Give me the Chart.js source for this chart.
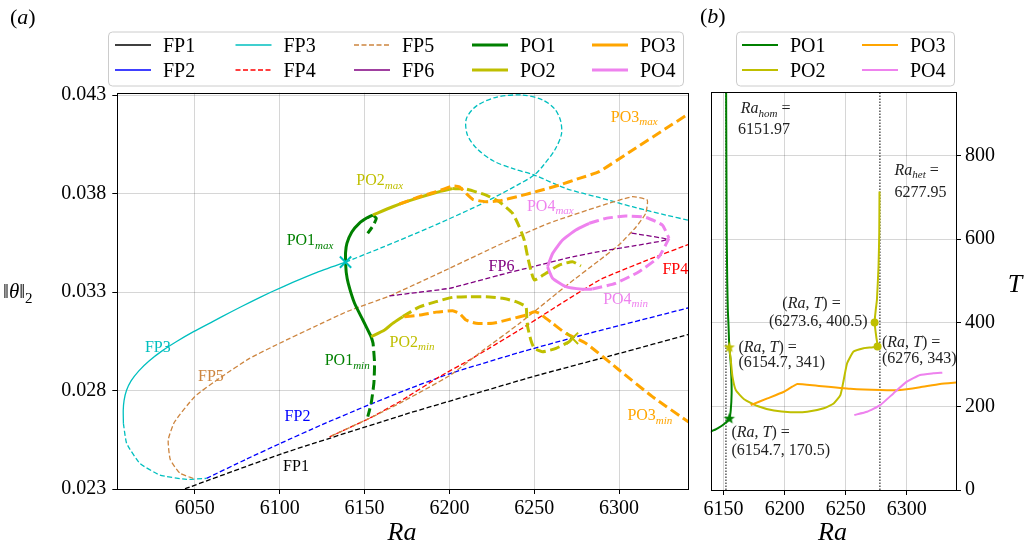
<!DOCTYPE html>
<html>
<head>
<meta charset="utf-8">
<script src="https://cdn.jsdelivr.net/npm/chart.js@4/dist/chart.umd.min.js"></script>
<style>
  html, body { margin: 0; padding: 0; background: #fff; }
  #wrap { position: relative; width: 1028px; height: 551px; overflow: hidden; }
  #chartA { position: absolute; left: 0; top: 0; }
  #chartB { position: absolute; left: 700px; top: 0; }
</style>
</head>
<body>
<div id="wrap">
  <canvas id="chartA" width="700" height="551"></canvas>
  <canvas id="chartB" width="328" height="551"></canvas>
</div>
<script>
// ── Data: panel (a), Ra vs ||theta||_2 ─────────────────────────────────────
const aRaTicks   = [6050, 6100, 6150, 6200, 6250, 6300];
const aNormTicks = [0.023, 0.028, 0.033, 0.038, 0.043];

const fp1Ra   = [6040, 6045.1, 6101.9, 6176.5, 6210, 6249, 6300, 6341];
const fp1Norm = [0.02288, 0.02304, 0.02481, 0.02686, 0.02771, 0.0287, 0.02988, 0.03085];

const fp2Ra   = [6056.9, 6080, 6100, 6125, 6150, 6175, 6200, 6240, 6280, 6341];
const fp2Norm = [0.02354, 0.0245, 0.0253, 0.02627, 0.02718, 0.02805, 0.02885, 0.0299, 0.03085, 0.0322];

// FP3: stable part, lower unstable part, upper unstable part with the loop
const fp3StableRa   = [6138.8, 6122, 6108, 6095, 6083, 6071.5, 6060.5, 6049.5, 6039.5, 6030.5, 6023, 6017, 6012.5, 6009.7, 6008.3, 6007.8, 6007.9];
const fp3StableNorm = [0.03452, 0.034, 0.0335, 0.033, 0.0325, 0.032, 0.0315, 0.031, 0.0305, 0.03, 0.0295, 0.029, 0.0285, 0.028, 0.0275, 0.027, 0.02633];
const fp3LowRa   = [6007.9, 6009.8, 6017.6, 6029.4, 6045.1, 6056.9];
const fp3LowNorm = [0.02633, 0.02532, 0.0243, 0.02371, 0.02349, 0.02354];
const fp3UpRa   = [6138.8, 6160, 6180, 6200, 6220, 6240, 6250, 6256, 6262, 6266, 6265.5, 6262, 6255, 6243, 6228,
                   6216, 6210, 6210.5, 6216, 6226, 6238, 6250, 6268.6, 6288.2, 6307.8, 6327.5, 6341];
const fp3UpNorm = [0.03452, 0.03525, 0.03597, 0.03672, 0.03752, 0.03843, 0.03894, 0.0395, 0.0402, 0.041, 0.0417, 0.0423, 0.04275, 0.043, 0.0429,
                   0.04245, 0.0418, 0.041, 0.0403, 0.03965, 0.03925, 0.03894, 0.03826, 0.0378, 0.03733, 0.03691, 0.03664];

const fp4Ra   = [6129.4, 6152.9, 6170.6, 6194.1, 6211.8, 6241.2, 6288.2, 6316.6, 6341];
const fp4Norm = [0.02565, 0.02659, 0.02743, 0.0287, 0.02955, 0.03107, 0.0336, 0.03462, 0.03542];

const fp5Ra   = [6049, 6041.2, 6035.5, 6034.3, 6038, 6050, 6065, 6082, 6100, 6120, 6140, 6164.7, 6200, 6229.4, 6258.8,
                 6288.2, 6307.8, 6316.6, 6315.7, 6310, 6300, 6288.2, 6270, 6241.2, 6220, 6200, 6170.6, 6152.9, 6129.4];
const fp5Norm = [0.02354, 0.0238, 0.0245, 0.02549, 0.0264, 0.0277, 0.02865, 0.02962, 0.0304, 0.03122, 0.03202, 0.0328, 0.0342, 0.0354, 0.0365,
                 0.03735, 0.03784, 0.03767, 0.037, 0.0363, 0.0354, 0.0346, 0.0334, 0.0314, 0.03005, 0.02875, 0.02735, 0.02659, 0.02565];

const fp6Ra   = [6164.7, 6176.5, 6200, 6229.4, 6249, 6268.6, 6288.2, 6307.8, 6328.4, 6305.9];
const fp6Norm = [0.0328, 0.03293, 0.03319, 0.03386, 0.03428, 0.03471, 0.03505, 0.03533, 0.03567, 0.03601];

// PO branches: max / min of the orbit, stable (solid) and unstable (dashed)
const po1MaxRa       = [6138.8, 6138.8, 6139.6, 6142.5, 6147, 6151.5, 6154.9];
const po1MaxNorm     = [0.03452, 0.035, 0.03547, 0.03605, 0.0365, 0.03677, 0.03691];
const po1MaxDashRa   = [6154.9, 6156.9, 6155.2, 6151.9];
const po1MaxDashNorm = [0.03691, 0.03674, 0.0364, 0.03598];
const po1MinRa       = [6138.8, 6139.2, 6140.4, 6144.1, 6149, 6153.9];
const po1MinNorm     = [0.03452, 0.034, 0.03344, 0.03243, 0.03158, 0.03073];
const po1MinDashRa   = [6153.9, 6155, 6155.9, 6155.5, 6153.9, 6151.9];
const po1MinDashNorm = [0.03073, 0.0304, 0.02938, 0.02837, 0.02735, 0.02667];

const po2MaxRa       = [6154.9, 6166.6, 6176.5, 6192.2, 6201.9];
const po2MaxNorm     = [0.03691, 0.03733, 0.03764, 0.03805, 0.03825];
const po2MaxDashRa   = [6201.9, 6209.8, 6221.6, 6229.4, 6237.2, 6241.2, 6244.1, 6246.1, 6248, 6250, 6256.9, 6264.7, 6272.5, 6277.5];
const po2MaxDashNorm = [0.03825, 0.03823, 0.03792, 0.03758, 0.037, 0.03631, 0.03564, 0.03479, 0.03412, 0.03361, 0.03395, 0.03437, 0.03454, 0.03432];
const po2MinRa       = [6153.9, 6161.8, 6166.6, 6172.5];
const po2MinNorm     = [0.03073, 0.03107, 0.03141, 0.03175];
const po2MinDashRa   = [6172.5, 6182.4, 6192.2, 6201.9, 6211.8, 6221.6, 6231.4, 6239.2, 6245.1, 6245.6, 6246.1, 6248, 6250, 6254.9, 6262.8, 6270.6, 6272.5];
const po2MinDashNorm = [0.03175, 0.03225, 0.03251, 0.03273, 0.03276, 0.03276, 0.03268, 0.03251, 0.03225, 0.03168, 0.03124, 0.03056, 0.03014, 0.02997, 0.03014, 0.03048, 0.03065];

const po3MaxRa   = [6170.6, 6182.4, 6192.2, 6201.9, 6205.9, 6209.8, 6213.7, 6221.6, 6229.4, 6241.2, 6252.9, 6264.7, 6276.5, 6288.2, 6307.8, 6327.5, 6341];
const po3MaxNorm = [0.03747, 0.03784, 0.03809, 0.03838, 0.03834, 0.03801, 0.03771, 0.03758, 0.03763, 0.03787, 0.03814, 0.03843, 0.03877, 0.03911, 0.0402, 0.0413, 0.04205];
const po3MinRa   = [6173.5, 6182.4, 6192.2, 6201.9, 6205.9, 6209.8, 6215.7, 6225.5, 6235.3, 6245.1, 6250, 6252.9, 6260.8, 6268.6, 6280.4, 6300, 6319.6, 6341];
const po3MinNorm = [0.03175, 0.03183, 0.03198, 0.03205, 0.03192, 0.03158, 0.03141, 0.03141, 0.03161, 0.03183, 0.032, 0.03192, 0.03141, 0.0309, 0.0304, 0.02904, 0.02769, 0.0264];

const po4MaxRa       = [6257.8, 6260.8, 6266.7, 6274.5, 6282.4];
const po4MaxNorm     = [0.03428, 0.03496, 0.03564, 0.03615, 0.03649];
const po4MaxDashRa   = [6282.4, 6292.2, 6304, 6315.7, 6325.5, 6329.4];
const po4MaxDashNorm = [0.03649, 0.03674, 0.03686, 0.03679, 0.0364, 0.03573];
const po4MinRa       = [6257.8, 6260.8, 6268.6, 6278.4, 6284.3];
const po4MinNorm     = [0.03428, 0.0337, 0.03327, 0.03314, 0.03315];
const po4MinDashRa   = [6284.3, 6297.8, 6311.7, 6323.5, 6329.4];
const po4MinDashNorm = [0.03315, 0.03344, 0.03403, 0.03479, 0.03573];

// Hopf points (crosses)
const hopfRa   = [6138.8, 6272.5];
const hopfNorm = [0.03452, 0.03065];

// ── Data: panel (b), Ra vs period T ────────────────────────────────────────
const bRaTicks     = [6150, 6200, 6250, 6300];
const bPeriodTicks = [0, 200, 400, 600, 800];

const po1PerRa = [6135, 6139.6, 6145.1, 6150.5, 6154.7, 6155.9, 6156.6, 6156.4, 6155.7, 6154.7, 6154.1, 6153.5, 6153.0, 6152.6, 6152.3, 6152.1];
const po1PerT  = [132, 139.5, 147.6, 158, 170.5, 191, 231, 271, 311, 341, 391, 430, 500, 614, 800, 960];
const po2PerRa = [6154.7, 6155.9, 6157.3, 6160, 6166.8, 6177.7, 6191.2, 6204.8, 6218.5, 6232, 6240.1, 6245.6, 6248.3, 6251.1, 6256.4,
                  6264.6, 6271.4, 6276, 6275, 6273.6, 6274.5, 6275.5, 6276.8, 6277.4, 6277.6];
const po2PerT  = [341, 311, 271, 239, 217, 201, 190, 186, 187, 195.5, 207, 227, 263, 303, 331,
                  339, 341, 343, 365, 400.5, 430, 455, 534, 614, 714];
const po3PerRa = [6172.2, 6185.9, 6199.4, 6206.2, 6210.3, 6226.6, 6253.8, 6278.2, 6294.5, 6310.8, 6327.1, 6341];
const po3PerT  = [203, 219, 235, 247, 253.6, 249, 242, 239, 239, 245.7, 253.6, 257];
const po4PerRa = [6257, 6267.4, 6278.2, 6289, 6300, 6310.8, 6321.6, 6329];
const po4PerT  = [179.4, 187, 203, 231, 259, 275, 279, 280.6];

const raHom = 6151.97;
const raHet = 6277.95;
const guideT = [0, 960];
const starRa = [6154.7, 6154.7];
const starT  = [170.5, 341];
const dotRa  = [6273.6, 6276];
const dotT   = [400.5, 343];

// ── Styling ─────────────────────────────────────────────────────────────────
const SERIF = "'Liberation Serif', 'Times New Roman', serif";
const C = {
  fp1: '#000000', fp2: '#0000ff', fp3: '#00bfbf', fp4: '#ff0000', fp5: '#cd853f', fp6: '#800080',
  po1: '#008000', po2: '#bfbf00', po3: '#ffa500', po4: '#ee82ee', text: '#222222'
};
const FP_DASH = [5, 2.5];
const PO_DASH = [10, 4.5];

Chart.defaults.font.family = SERIF;

function pts(xs, ys) { return xs.map((x, i) => ({ x: x, y: ys[i] })); }

function seg(xs, ys, color, width, dash, layer, tension) {
  return {
    data: pts(xs, ys), showLine: true, fill: false,
    borderColor: color, backgroundColor: color, borderWidth: width, borderDash: dash,
    pointRadius: 0, pointHoverRadius: 0, tension: tension === undefined ? 0.15 : tension, order: -layer
  };
}

function marks(xs, ys, colors, style, radius, width, layer) {
  return {
    data: pts(xs, ys), showLine: false,
    pointStyle: style, pointRadius: radius, pointHoverRadius: radius,
    pointBorderColor: colors, pointBackgroundColor: colors, pointBorderWidth: width,
    order: -layer
  };
}

function starImage(color, r) {
  const c = document.createElement('canvas');
  const s = Math.ceil(r * 2 + 2);
  c.width = s; c.height = s;
  const g = c.getContext('2d');
  g.beginPath();
  for (let i = 0; i < 10; i++) {
    const rad = i % 2 ? r * 0.42 : r;
    const a = -Math.PI / 2 + i * Math.PI / 5;
    const px = s / 2 + rad * Math.cos(a), py = s / 2 + rad * Math.sin(a);
    if (i === 0) g.moveTo(px, py); else g.lineTo(px, py);
  }
  g.closePath();
  g.fillStyle = color;
  g.fill();
  return c;
}

// text made of runs: 'n' upright, 'i' italic, 's' italic subscript, 'd' upright subscript
function drawRuns(ctx, x, yMid, runs, size, color, align) {
  const fontOf = k => {
    if (k === 'n') return size + 'px ' + SERIF;
    if (k === 'i') return 'italic ' + size + 'px ' + SERIF;
    if (k === 's') return 'italic ' + Math.round(size * 0.7) + 'px ' + SERIF;
    return Math.round(size * 0.7) + 'px ' + SERIF;
  };
  let w = 0;
  runs.forEach(r => { ctx.font = fontOf(r[1]); w += ctx.measureText(r[0]).width; });
  let cx = align === 'center' ? x - w / 2 : (align === 'right' ? x - w : x);
  const base = yMid + size * 0.33;
  ctx.save();
  ctx.fillStyle = color;
  ctx.textAlign = 'left';
  ctx.textBaseline = 'alphabetic';
  runs.forEach(r => {
    ctx.font = fontOf(r[1]);
    const sub = r[1] === 's' || r[1] === 'd';
    ctx.fillText(r[0], cx, base + (sub ? size * 0.22 : 0));
    cx += ctx.measureText(r[0]).width;
  });
  ctx.restore();
}

function drawLegend(ctx, box, items) {
  ctx.save();
  ctx.fillStyle = 'rgba(255,255,255,0.85)';
  ctx.strokeStyle = '#cccccc';
  ctx.lineWidth = 1;
  ctx.beginPath();
  ctx.roundRect(box.x + 0.5, box.y + 0.5, box.w, box.h, 4);
  ctx.fill();
  ctx.stroke();
  items.forEach(it => {
    ctx.beginPath();
    ctx.strokeStyle = it.color;
    ctx.lineWidth = it.width;
    ctx.setLineDash(it.dash);
    ctx.moveTo(it.x, it.y);
    ctx.lineTo(it.x + 36, it.y);
    ctx.stroke();
    ctx.setLineDash([]);
    drawRuns(ctx, it.x + 48, it.y, [[it.label, 'n']], 20, '#000', 'left');
  });
  ctx.restore();
}

function framePlugin(id) {
  return {
    id: id,
    afterDatasetsDraw(chart) {
      const a = chart.chartArea, ctx = chart.ctx;
      ctx.save();
      ctx.strokeStyle = '#000';
      ctx.lineWidth = 1;
      ctx.strokeRect(Math.round(a.left) + 0.5, Math.round(a.top) + 0.5,
                     Math.round(a.right - a.left), Math.round(a.bottom - a.top));
      ctx.restore();
    }
  };
}

const gridStyle = { color: 'rgba(0,0,0,0.16)', lineWidth: 1, tickColor: '#000', tickLength: 5, tickWidth: 1 };
const tickFont = { family: SERIF, size: 20 };

// ── Panel (a) ───────────────────────────────────────────────────────────────
const labelsA = [
  { at: [6104.1, 0.03564], runs: [['PO1', 'n'], ['max', 's']], color: C.po1 },
  { at: [6126.5, 0.02955], runs: [['PO1', 'n'], ['min', 's']], color: C.po1 },
  { at: [6145.1, 0.03869], runs: [['PO2', 'n'], ['max', 's']], color: C.po2 },
  { at: [6164.7, 0.03049], runs: [['PO2', 'n'], ['min', 's']], color: C.po2 },
  { at: [6295.1, 0.04191], runs: [['PO3', 'n'], ['max', 's']], color: C.po3 },
  { at: [6304.9, 0.02676], runs: [['PO3', 'n'], ['min', 's']], color: C.po3 },
  { at: [6245.7, 0.03739], runs: [['PO4', 'n'], ['max', 's']], color: C.po4 },
  { at: [6290.6, 0.03267], runs: [['PO4', 'n'], ['min', 's']], color: C.po4 },
  { at: [6020.6, 0.03022], runs: [['FP3', 'n']], color: C.fp3 },
  { at: [6051.9, 0.02874], runs: [['FP5', 'n']], color: C.fp5 },
  { at: [6102.9, 0.02671], runs: [['FP2', 'n']], color: C.fp2 },
  { at: [6102.0, 0.02417], runs: [['FP1', 'n']], color: C.fp1 },
  { at: [6223.1, 0.03434], runs: [['FP6', 'n']], color: C.fp6 },
  { at: [6325.5, 0.03419], runs: [['FP4', 'n']], color: C.fp4 }
];

const legendA = [
  { label: 'FP1', color: C.fp1, width: 1.5, dash: [],      x: 115,   y: 45 },
  { label: 'FP2', color: C.fp2, width: 1.5, dash: [],      x: 115,   y: 70 },
  { label: 'FP3', color: C.fp3, width: 1.5, dash: [],      x: 235.5, y: 45 },
  { label: 'FP4', color: C.fp4, width: 1.5, dash: FP_DASH, x: 235.5, y: 70 },
  { label: 'FP5', color: C.fp5, width: 1.5, dash: FP_DASH, x: 354,   y: 45 },
  { label: 'FP6', color: C.fp6, width: 1.5, dash: [],      x: 354,   y: 70 },
  { label: 'PO1', color: C.po1, width: 3,   dash: [],      x: 472,   y: 45 },
  { label: 'PO2', color: C.po2, width: 3,   dash: [],      x: 472,   y: 70 },
  { label: 'PO3', color: C.po3, width: 3,   dash: [],      x: 592,   y: 45 },
  { label: 'PO4', color: C.po4, width: 3,   dash: [],      x: 592,   y: 70 }
];

const textPluginA = {
  id: 'textA',
  afterDraw(chart) {
    const ctx = chart.ctx, xs = chart.scales.x, ys = chart.scales.y;
    labelsA.forEach(l => {
      drawRuns(ctx, xs.getPixelForValue(l.at[0]), ys.getPixelForValue(l.at[1]), l.runs, 16, l.color, 'left');
    });
    drawRuns(ctx, 10, 17, [['(', 'n'], ['a', 'i'], [')', 'n']], 22, '#000', 'left');
    drawRuns(ctx, 3, 291, [['\u2016', 'n'], ['\u03b8', 'i'], ['\u2016', 'n'], ['2', 'd']], 21, '#000', 'left');
    drawRuns(ctx, 402, 531, [['Ra', 'i']], 26, '#000', 'center');
    drawLegend(ctx, { x: 108, y: 31.5, w: 575, h: 54 }, legendA);
  }
};

const dsA = [
  seg(fp1Ra, fp1Norm, C.fp1, 1.3, FP_DASH, 1),
  seg(fp2Ra, fp2Norm, C.fp2, 1.3, FP_DASH, 2),
  seg(fp3StableRa, fp3StableNorm, C.fp3, 1.3, [], 3),
  seg(fp3LowRa, fp3LowNorm, C.fp3, 1.3, FP_DASH, 3),
  seg(fp3UpRa, fp3UpNorm, C.fp3, 1.3, FP_DASH, 3, 0.3),
  seg(fp4Ra, fp4Norm, C.fp4, 1.3, FP_DASH, 4),
  seg(fp5Ra, fp5Norm, C.fp5, 1.3, FP_DASH, 5),
  seg(fp6Ra, fp6Norm, C.fp6, 1.3, FP_DASH, 6),
  seg(po1MaxRa, po1MaxNorm, C.po1, 3, [], 7),
  seg(po1MaxDashRa, po1MaxDashNorm, C.po1, 3, PO_DASH, 7),
  seg(po1MinRa, po1MinNorm, C.po1, 3, [], 7),
  seg(po1MinDashRa, po1MinDashNorm, C.po1, 3, PO_DASH, 7),
  seg(po2MaxRa, po2MaxNorm, C.po2, 3, [], 8),
  seg(po2MaxDashRa, po2MaxDashNorm, C.po2, 3, PO_DASH, 8),
  seg(po2MinRa, po2MinNorm, C.po2, 3, [], 8),
  seg(po2MinDashRa, po2MinDashNorm, C.po2, 3, PO_DASH, 8),
  seg(po3MaxRa, po3MaxNorm, C.po3, 3, PO_DASH, 9),
  seg(po3MinRa, po3MinNorm, C.po3, 3, PO_DASH, 9),
  seg(po4MaxRa, po4MaxNorm, C.po4, 3, [], 10),
  seg(po4MaxDashRa, po4MaxDashNorm, C.po4, 3, PO_DASH, 10),
  seg(po4MinRa, po4MinNorm, C.po4, 3, [], 10),
  seg(po4MinDashRa, po4MinDashNorm, C.po4, 3, PO_DASH, 10),
  marks(hopfRa, hopfNorm, [C.fp3, C.po2], 'crossRot', 8, 2, 11)
];

new Chart(document.getElementById('chartA'), {
  type: 'scatter',
  data: { datasets: dsA },
  options: {
    responsive: false, animation: false, devicePixelRatio: 1,
    layout: { padding: { left: 0, right: 12, top: 92.7, bottom: 0 } },
    plugins: { legend: { display: false }, tooltip: { enabled: false } },
    scales: {
      x: {
        type: 'linear', min: 6004.3, max: 6340.6,
        afterFit: s => { s.height = 62; },
        afterBuildTicks: s => { s.ticks = aRaTicks.map(v => ({ value: v })); },
        ticks: { font: tickFont, color: '#000', padding: 3, maxRotation: 0, callback: v => String(v) },
        grid: gridStyle, border: { display: false }
      },
      y: {
        type: 'linear', min: 0.023, max: 0.04312,
        afterFit: s => { s.width = 117.3; },
        afterBuildTicks: s => { s.ticks = aNormTicks.map(v => ({ value: v })); },
        ticks: { font: tickFont, color: '#000', padding: 6, callback: v => v.toFixed(3) },
        grid: gridStyle, border: { display: false }
      }
    }
  },
  plugins: [framePlugin('frameA'), textPluginA]
});

// ── Panel (b) ───────────────────────────────────────────────────────────────
const labelsB = [
  { at: [6164.1, 914],   runs: [['Ra', 'i'], ['hom', 's'], [' =', 'n']] },
  { at: [6161.9, 864],   runs: [['6151.97', 'n']] },
  { at: [6289.9, 766],   runs: [['Ra', 'i'], ['het', 's'], [' =', 'n']] },
  { at: [6289.9, 714],   runs: [['6277.95', 'n']] },
  { at: [6198.1, 447],   runs: [['(', 'n'], ['Ra', 'i'], [', ', 'n'], ['T', 'i'], [') =', 'n']] },
  { at: [6187.2, 405],   runs: [['(6273.6, 400.5)', 'n']] },
  { at: [6162.2, 343],   runs: [['(', 'n'], ['Ra', 'i'], [', ', 'n'], ['T', 'i'], [') =', 'n']] },
  { at: [6162.2, 306],   runs: [['(6154.7, 341)', 'n']] },
  { at: [6279.6, 355],   runs: [['(', 'n'], ['Ra', 'i'], [', ', 'n'], ['T', 'i'], [') =', 'n']] },
  { at: [6279.6, 316],   runs: [['(6276, 343)', 'n']] },
  { at: [6156.5, 139.5], runs: [['(', 'n'], ['Ra', 'i'], [', ', 'n'], ['T', 'i'], [') =', 'n']] },
  { at: [6156.5, 95.7],  runs: [['(6154.7, 170.5)', 'n']] }
];

const legendB = [
  { label: 'PO1', color: C.po1, width: 2, dash: [], x: 42,  y: 45 },
  { label: 'PO2', color: C.po2, width: 2, dash: [], x: 42,  y: 70 },
  { label: 'PO3', color: C.po3, width: 2, dash: [], x: 162, y: 45 },
  { label: 'PO4', color: C.po4, width: 2, dash: [], x: 162, y: 70 }
];

const textPluginB = {
  id: 'textB',
  afterDraw(chart) {
    const ctx = chart.ctx, xs = chart.scales.x, ys = chart.scales.y;
    labelsB.forEach(l => {
      drawRuns(ctx, xs.getPixelForValue(l.at[0]), ys.getPixelForValue(l.at[1]), l.runs, 16, C.text, 'left');
    });
    drawRuns(ctx, 0, 16, [['(', 'n'], ['b', 'i'], [')', 'n']], 22, '#000', 'left');
    drawRuns(ctx, 132.5, 531, [['Ra', 'i']], 26, '#000', 'center');
    drawRuns(ctx, 315, 283, [['T', 'i']], 26, '#000', 'center');
    drawLegend(ctx, { x: 36, y: 31.5, w: 218, h: 54 }, legendB);
  }
};

const dsB = [
  seg([raHom, raHom], guideT, '#000', 1, [1.5, 1.5], 1, 0),
  seg([raHet, raHet], guideT, '#000', 1, [1.5, 1.5], 1, 0),
  seg(po1PerRa, po1PerT, C.po1, 2, [], 2),
  seg(po2PerRa, po2PerT, C.po2, 2, [], 3),
  seg(po3PerRa, po3PerT, C.po3, 2, [], 4),
  seg(po4PerRa, po4PerT, C.po4, 2, [], 5),
  marks(starRa, starT, [C.po1, C.po2], [starImage(C.po1, 6), starImage(C.po2, 6)], 6, 0, 6),
  marks(dotRa, dotT, [C.po2, C.po2], 'circle', 4, 0, 6)
];

new Chart(document.getElementById('chartB'), {
  type: 'scatter',
  data: { datasets: dsB },
  options: {
    responsive: false, animation: false, devicePixelRatio: 1,
    layout: { padding: { left: 10.7, right: 0, top: 92.3, bottom: 0 } },
    plugins: { legend: { display: false }, tooltip: { enabled: false } },
    scales: {
      x: {
        type: 'linear', min: 6139.6, max: 6340.2,
        afterFit: s => { s.height = 61; },
        afterBuildTicks: s => { s.ticks = bRaTicks.map(v => ({ value: v })); },
        ticks: { font: tickFont, color: '#000', padding: 3, maxRotation: 0, callback: v => String(v) },
        grid: gridStyle, border: { display: false }
      },
      y: {
        type: 'linear', position: 'right', min: 0, max: 951,
        afterFit: s => { s.width = 72; },
        afterBuildTicks: s => { s.ticks = bPeriodTicks.map(v => ({ value: v })); },
        ticks: { font: tickFont, color: '#000', padding: 4, callback: v => String(v) },
        grid: gridStyle, border: { display: false }
      }
    }
  },
  plugins: [framePlugin('frameB'), textPluginB]
});
</script>
</body>
</html>
